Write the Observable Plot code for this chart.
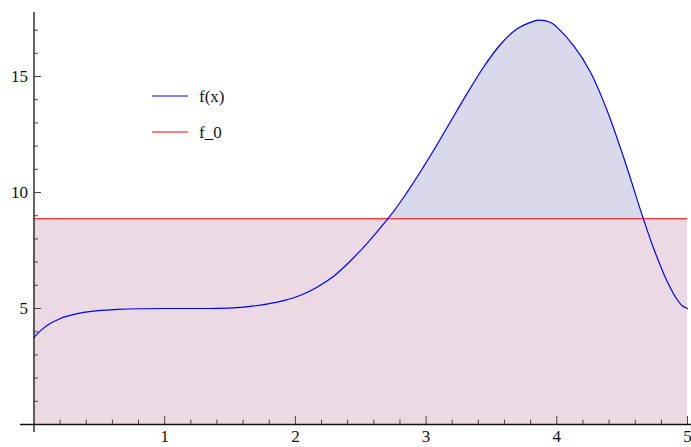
<!DOCTYPE html>
<html>
<head>
<meta charset="utf-8">
<script src="https://cdn.jsdelivr.net/npm/d3@7"></script>
<script src="https://cdn.jsdelivr.net/npm/@observablehq/plot@0.6"></script>
<style>
  html, body { margin: 0; padding: 0; background: #fff; }
  #chart { width: 691px; height: 447px; }
  #chart svg text { font-family: "Liberation Serif", "Times New Roman", "DejaVu Serif", "Liberation Sans", sans-serif; }
</style>
</head>
<body>
<div id="chart"></div>
<script>
// Curve f(x)
const xs = [0, 0.06, 0.126, 0.19, 0.254, 0.38, 0.51, 0.64, 0.8, 1.0, 1.2, 1.4, 1.55, 1.655, 1.78, 1.91, 2.04, 2.165, 2.29, 2.42, 2.547, 2.708, 2.802, 2.93, 3.057, 3.184, 3.312, 3.439, 3.567, 3.694, 3.821, 3.86, 3.95, 4.0, 4.127, 4.255, 4.382, 4.509, 4.662, 4.739, 4.841, 4.917, 4.96, 5.0];
const fx = [3.76, 4.09, 4.36, 4.54, 4.67, 4.83, 4.92, 4.96, 4.99, 5.0, 5.0, 5.01, 5.04, 5.09, 5.19, 5.34, 5.57, 5.92, 6.38, 7.05, 7.8, 8.87, 9.58, 10.66, 11.81, 13.03, 14.25, 15.4, 16.37, 17.05, 17.38, 17.43, 17.34, 17.13, 16.34, 15.22, 13.58, 11.55, 8.87, 7.62, 6.21, 5.42, 5.12, 5.0];
const f0 = 8.87;

const xMajor = [1, 2, 3, 4, 5];
const xMinor = [0.2, 0.4, 0.6, 0.8, 1.2, 1.4, 1.6, 1.8, 2.2, 2.4, 2.6, 2.8, 3.2, 3.4, 3.6, 3.8, 4.2, 4.4, 4.6, 4.8];
const yMajor = [5, 10, 15];
const yMinor = [1, 2, 3, 4, 6, 7, 8, 9, 11, 12, 13, 14, 16, 17];
const legendLabels = ["f(x)", "f_0"];
const legendColors = ["blue", "red"];

const data = xs.map((x, i) => ({x, y: fx[i]}));

const W = 691, H = 447;
const mL = 33.5, mR = 4, mT = 12, mB = 23;
const frameW = W - mL - mR, frameH = H - mT - mB;

const chart = Plot.plot({
  width: W,
  height: H,
  marginLeft: mL,
  marginRight: mR,
  marginTop: mT,
  marginBottom: mB,
  x: {domain: [0, 5], axis: null},
  y: {domain: [0, 17.76], axis: null},
  style: {fontSize: "17px", background: "#fff", overflow: "visible"},
  marks: [
    Plot.areaY(data, {x: "x", y1: f0, y2: "y", fill: "#d9d9eb", curve: "catmull-rom"}),
    Plot.areaY(data, {x: "x", y1: 0, y2: f0, fill: "#ebd9e4"}),
    Plot.ruleY([f0], {stroke: "#ff0000", strokeWidth: 1.2}),
    Plot.line(data, {x: "x", y: "y", stroke: "#0000ff", strokeWidth: 1.2, curve: "catmull-rom"}),
    // axes lines
    Plot.ruleY([0], {stroke: "#111", strokeWidth: 1.3, insetLeft: -13.5, insetRight: -4}),
    Plot.ruleX([0], {stroke: "#111", strokeWidth: 1.3, insetBottom: -8}),
    // ticks
    Plot.tickX(xMajor, {stroke: "#444", strokeWidth: 1, insetTop: frameH - 8}),
    Plot.tickX(xMinor, {stroke: "#444", strokeWidth: 1, insetTop: frameH - 4.5}),
    Plot.tickY(yMajor, {stroke: "#444", strokeWidth: 1, insetRight: frameW - 7.5}),
    Plot.tickY(yMinor, {stroke: "#444", strokeWidth: 1, insetRight: frameW - 4.5}),
    // tick labels
    Plot.text(xMajor, {x: d => d, frameAnchor: "bottom", dy: 17, text: d => String(d), fill: "#111"}),
    Plot.text(yMajor, {y: d => d, frameAnchor: "left", dx: -6, textAnchor: "end", text: d => String(d), fill: "#111"})
  ]
});

document.getElementById("chart").appendChild(chart);

// Legend drawn into the same SVG
const svg = d3.select(chart);
const lg = svg.append("g").attr("font-size", 17).attr("text-anchor", "start");
legendLabels.forEach((lab, i) => {
  const yy = 96 + i * 36;
  lg.append("line").attr("x1", 152).attr("x2", 188).attr("y1", yy).attr("y2", yy)
    .attr("stroke", legendColors[i]).attr("stroke-width", 1);
  lg.append("text").attr("x", 199).attr("y", yy).attr("dy", "0.35em").attr("fill", "#111").text(lab);
});
</script>
</body>
</html>
